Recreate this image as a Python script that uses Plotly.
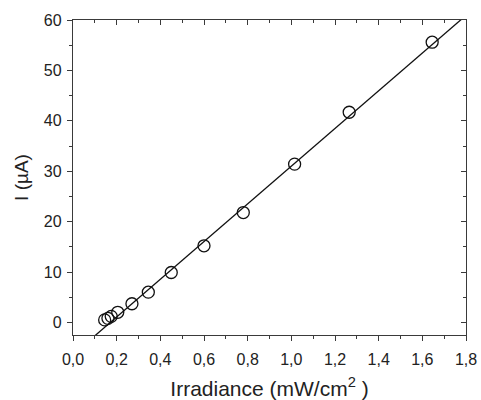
import plotly.graph_objects as go

# --- datos ---
irradiancia = [0.145, 0.16, 0.175, 0.205, 0.27, 0.345, 0.45, 0.60, 0.78, 1.015, 1.265, 1.645]
corriente = [0.5, 0.8, 1.2, 2.0, 3.7, 6.0, 9.9, 15.2, 21.8, 31.4, 41.7, 55.6]

# ajuste lineal (pendiente y ordenada)
pendiente = 37.4
ordenada = -6.4
x_ajuste = [0.0, 1.8]

X_RANGO = [0.0, 1.8]
Y_RANGO = [-2.5, 60]

FUENTE = 'Arial, Liberation Sans, sans-serif'
GRIS = '#3a3a3a'

y_ajuste = [pendiente * x + ordenada for x in x_ajuste]

fig = go.Figure()

fig.add_trace(go.Scatter(
    x=x_ajuste, y=y_ajuste, mode='lines',
    line=dict(color='#111111', width=1.3),
    cliponaxis=True, showlegend=False
))

fig.add_trace(go.Scatter(
    x=irradiancia, y=corriente, mode='markers',
    marker=dict(symbol='circle-open', size=12, color='#111111', line=dict(width=1.3)),
    showlegend=False
))

# traza invisible para los ejes espejo (arriba / derecha)
fig.add_trace(go.Scatter(
    x=[None], y=[None], xaxis='x2', yaxis='y2', showlegend=False
))

eje_comun = dict(
    showline=True, linecolor=GRIS, linewidth=1.3,
    showgrid=False, zeroline=False, automargin=False,
    tickcolor=GRIS, tickwidth=1.3,
)

fig.update_layout(
    width=481, height=400,
    margin=dict(l=73, r=15, t=20, b=65),
    paper_bgcolor='white', plot_bgcolor='white',
    separators=',.',
    font=dict(family=FUENTE, color='#222222', size=16),
    xaxis=dict(
        range=X_RANGO, dtick=0.2, tick0=0, tickformat='.1f',
        ticks='outside', ticklen=5, ticklabelstandoff=5,
        minor=dict(dtick=0.1, ticks='outside', ticklen=3, tickcolor=GRIS),
        title=dict(text='Irradiance (mW/cm<sup>2</sup> )', font=dict(size=21), standoff=15),
        tickfont=dict(size=16),
        **eje_comun
    ),
    yaxis=dict(
        range=Y_RANGO, dtick=10, tick0=0,
        ticks='outside', ticklen=5, ticklabelstandoff=2,
        minor=dict(dtick=5, ticks='outside', ticklen=3, tickcolor=GRIS),
        title=dict(text='I (µA)', font=dict(size=19), standoff=10),
        tickfont=dict(size=16),
        **eje_comun
    ),
    xaxis2=dict(
        range=X_RANGO, dtick=0.2, tick0=0, overlaying='x', side='top',
        ticks='inside', ticklen=5, showticklabels=False,
        minor=dict(dtick=0.1, ticks='inside', ticklen=3, tickcolor=GRIS),
        **eje_comun
    ),
    yaxis2=dict(
        range=Y_RANGO, dtick=10, tick0=0, overlaying='y', side='right',
        ticks='inside', ticklen=5, showticklabels=False,
        minor=dict(dtick=5, ticks='inside', ticklen=3, tickcolor=GRIS),
        **eje_comun
    ),
)

# quitar el margen por defecto del body para que la figura ocupe toda la ventana
fig.write_html(
    "out.html",
    config={'displayModeBar': False},
    post_script="document.body.style.margin='0';"
)
